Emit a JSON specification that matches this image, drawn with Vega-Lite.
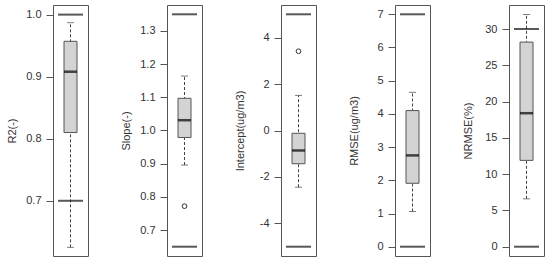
{
  "$schema": "https://vega.github.io/schema/vega-lite/v6.json",
  "padding": {"left": 5, "top": 4, "right": 0, "bottom": 0},
  "background": "white",
  "datasets": {
    "stats": [
      {"metric": "R2", "lower": 0.625, "q1": 0.81, "median": 0.908, "q3": 0.957, "upper": 0.987},
      {"metric": "Slope", "lower": 0.896, "q1": 0.979, "median": 1.031, "q3": 1.097, "upper": 1.164},
      {"metric": "Intercept", "lower": -2.44, "q1": -1.43, "median": -0.86, "q3": -0.12, "upper": 1.51},
      {"metric": "RMSE", "lower": 1.06, "q1": 1.91, "median": 2.75, "q3": 4.1, "upper": 4.65},
      {"metric": "NRMSE", "lower": 6.6, "q1": 11.9, "median": 18.4, "q3": 28.2, "upper": 32.0}
    ],
    "refs": [
      {"metric": "R2", "value": 0.7}, {"metric": "R2", "value": 1.0},
      {"metric": "Slope", "value": 0.65}, {"metric": "Slope", "value": 1.35},
      {"metric": "Intercept", "value": -5}, {"metric": "Intercept", "value": 5},
      {"metric": "RMSE", "value": 0}, {"metric": "RMSE", "value": 7},
      {"metric": "NRMSE", "value": 0}, {"metric": "NRMSE", "value": 30}
    ],
    "outliers": [
      {"metric": "Slope", "value": 0.772},
      {"metric": "Intercept", "value": 3.41}
    ]
  },
  "bounds": "flush",
  "spacing": 79,
  "hconcat": [
    {
      "width": 35, "height": 251,
      "encoding": {
        "x": {"datum": 0.5, "type": "quantitative", "scale": {"domain": [0, 1]}, "axis": null}
      },
      "layer": [
        {"data": {"name": "stats"}, "transform": [{"filter": "datum.metric === 'R2'"}],
         "mark": {"type": "rule", "strokeDash": [3, 2], "color": "#444", "strokeWidth": 1},
         "encoding": {"y": {"field": "lower", "type": "quantitative", "scale": {"domain": [0.611, 1.0155], "nice": false, "zero": false},
           "axis": {"title": "R2(-)", "values": [0.7, 0.8, 0.9, 1.0], "format": ".1f", "tickCount": 20}},
           "y2": {"field": "upper"}}},
        {"data": {"name": "stats"}, "transform": [{"filter": "datum.metric === 'R2'"}, {"fold": ["lower", "upper"], "as": ["k", "v"]}],
         "mark": {"type": "tick", "orient": "horizontal", "size": 7, "thickness": 1, "color": "#444"},
         "encoding": {"y": {"field": "v", "type": "quantitative"}}},
        {"data": {"name": "stats"}, "transform": [{"filter": "datum.metric === 'R2'"}],
         "mark": {"type": "bar", "width": 13, "fill": "#d3d3d3", "stroke": "#555", "strokeWidth": 1},
         "encoding": {"y": {"field": "q1", "type": "quantitative"}, "y2": {"field": "q3"}}},
        {"data": {"name": "stats"}, "transform": [{"filter": "datum.metric === 'R2'"}],
         "mark": {"type": "tick", "orient": "horizontal", "size": 13, "thickness": 2.5, "color": "#000"},
         "encoding": {"y": {"field": "median", "type": "quantitative"}}},
        {"data": {"name": "refs"}, "transform": [{"filter": "datum.metric === 'R2'"}],
         "mark": {"type": "tick", "orient": "horizontal", "size": 25, "thickness": 2, "color": "#111"},
         "encoding": {"y": {"field": "value", "type": "quantitative"}}}
      ]
    },
    {
      "width": 35, "height": 251,
      "encoding": {
        "x": {"datum": 0.5, "type": "quantitative", "scale": {"domain": [0, 1]}, "axis": null}
      },
      "layer": [
        {"data": {"name": "stats"}, "transform": [{"filter": "datum.metric === 'Slope'"}],
         "mark": {"type": "rule", "strokeDash": [3, 2], "color": "#444", "strokeWidth": 1},
         "encoding": {"y": {"field": "lower", "type": "quantitative", "scale": {"domain": [0.622, 1.378], "nice": false, "zero": false},
           "axis": {"title": "Slope(-)", "values": [0.7, 0.8, 0.9, 1.0, 1.1, 1.2, 1.3], "format": ".1f", "tickCount": 20}},
           "y2": {"field": "upper"}}},
        {"data": {"name": "stats"}, "transform": [{"filter": "datum.metric === 'Slope'"}, {"fold": ["lower", "upper"], "as": ["k", "v"]}],
         "mark": {"type": "tick", "orient": "horizontal", "size": 7, "thickness": 1, "color": "#444"},
         "encoding": {"y": {"field": "v", "type": "quantitative"}}},
        {"data": {"name": "stats"}, "transform": [{"filter": "datum.metric === 'Slope'"}],
         "mark": {"type": "bar", "width": 13, "fill": "#d3d3d3", "stroke": "#555", "strokeWidth": 1},
         "encoding": {"y": {"field": "q1", "type": "quantitative"}, "y2": {"field": "q3"}}},
        {"data": {"name": "stats"}, "transform": [{"filter": "datum.metric === 'Slope'"}],
         "mark": {"type": "tick", "orient": "horizontal", "size": 13, "thickness": 2.5, "color": "#000"},
         "encoding": {"y": {"field": "median", "type": "quantitative"}}},
        {"data": {"name": "outliers"}, "transform": [{"filter": "datum.metric === 'Slope'"}],
         "mark": {"type": "point", "shape": "circle", "filled": false, "size": 22, "color": "#333", "strokeWidth": 1, "opacity": 1},
         "encoding": {"y": {"field": "value", "type": "quantitative"}}},
        {"data": {"name": "refs"}, "transform": [{"filter": "datum.metric === 'Slope'"}],
         "mark": {"type": "tick", "orient": "horizontal", "size": 25, "thickness": 2, "color": "#111"},
         "encoding": {"y": {"field": "value", "type": "quantitative"}}}
      ]
    },
    {
      "width": 35, "height": 251,
      "encoding": {
        "x": {"datum": 0.5, "type": "quantitative", "scale": {"domain": [0, 1]}, "axis": null}
      },
      "layer": [
        {"data": {"name": "stats"}, "transform": [{"filter": "datum.metric === 'Intercept'"}],
         "mark": {"type": "rule", "strokeDash": [3, 2], "color": "#444", "strokeWidth": 1},
         "encoding": {"y": {"field": "lower", "type": "quantitative", "scale": {"domain": [-5.4, 5.4], "nice": false, "zero": false},
           "axis": {"title": "Intercept(ug/m3)", "values": [-4, -2, 0, 2, 4], "tickCount": 20, "labelExpr": "datum.value < 0 ? '-' + abs(datum.value) : '' + datum.value"}},
           "y2": {"field": "upper"}}},
        {"data": {"name": "stats"}, "transform": [{"filter": "datum.metric === 'Intercept'"}, {"fold": ["lower", "upper"], "as": ["k", "v"]}],
         "mark": {"type": "tick", "orient": "horizontal", "size": 7, "thickness": 1, "color": "#444"},
         "encoding": {"y": {"field": "v", "type": "quantitative"}}},
        {"data": {"name": "stats"}, "transform": [{"filter": "datum.metric === 'Intercept'"}],
         "mark": {"type": "bar", "width": 13, "fill": "#d3d3d3", "stroke": "#555", "strokeWidth": 1},
         "encoding": {"y": {"field": "q1", "type": "quantitative"}, "y2": {"field": "q3"}}},
        {"data": {"name": "stats"}, "transform": [{"filter": "datum.metric === 'Intercept'"}],
         "mark": {"type": "tick", "orient": "horizontal", "size": 13, "thickness": 2.5, "color": "#000"},
         "encoding": {"y": {"field": "median", "type": "quantitative"}}},
        {"data": {"name": "outliers"}, "transform": [{"filter": "datum.metric === 'Intercept'"}],
         "mark": {"type": "point", "shape": "circle", "filled": false, "size": 22, "color": "#333", "strokeWidth": 1, "opacity": 1},
         "encoding": {"y": {"field": "value", "type": "quantitative"}}},
        {"data": {"name": "refs"}, "transform": [{"filter": "datum.metric === 'Intercept'"}],
         "mark": {"type": "tick", "orient": "horizontal", "size": 25, "thickness": 2, "color": "#111"},
         "encoding": {"y": {"field": "value", "type": "quantitative"}}}
      ]
    },
    {
      "width": 35, "height": 251,
      "encoding": {
        "x": {"datum": 0.5, "type": "quantitative", "scale": {"domain": [0, 1]}, "axis": null}
      },
      "layer": [
        {"data": {"name": "stats"}, "transform": [{"filter": "datum.metric === 'RMSE'"}],
         "mark": {"type": "rule", "strokeDash": [3, 2], "color": "#444", "strokeWidth": 1},
         "encoding": {"y": {"field": "lower", "type": "quantitative", "scale": {"domain": [-0.28, 7.28], "nice": false, "zero": false},
           "axis": {"title": "RMSE(ug/m3)", "values": [0, 1, 2, 3, 4, 5, 6, 7], "format": "d", "tickCount": 20}},
           "y2": {"field": "upper"}}},
        {"data": {"name": "stats"}, "transform": [{"filter": "datum.metric === 'RMSE'"}, {"fold": ["lower", "upper"], "as": ["k", "v"]}],
         "mark": {"type": "tick", "orient": "horizontal", "size": 7, "thickness": 1, "color": "#444"},
         "encoding": {"y": {"field": "v", "type": "quantitative"}}},
        {"data": {"name": "stats"}, "transform": [{"filter": "datum.metric === 'RMSE'"}],
         "mark": {"type": "bar", "width": 13, "fill": "#d3d3d3", "stroke": "#555", "strokeWidth": 1},
         "encoding": {"y": {"field": "q1", "type": "quantitative"}, "y2": {"field": "q3"}}},
        {"data": {"name": "stats"}, "transform": [{"filter": "datum.metric === 'RMSE'"}],
         "mark": {"type": "tick", "orient": "horizontal", "size": 13, "thickness": 2.5, "color": "#000"},
         "encoding": {"y": {"field": "median", "type": "quantitative"}}},
        {"data": {"name": "refs"}, "transform": [{"filter": "datum.metric === 'RMSE'"}],
         "mark": {"type": "tick", "orient": "horizontal", "size": 25, "thickness": 2, "color": "#111"},
         "encoding": {"y": {"field": "value", "type": "quantitative"}}}
      ]
    },
    {
      "width": 35, "height": 251,
      "encoding": {
        "x": {"datum": 0.5, "type": "quantitative", "scale": {"domain": [0, 1]}, "axis": null}
      },
      "layer": [
        {"data": {"name": "stats"}, "transform": [{"filter": "datum.metric === 'NRMSE'"}],
         "mark": {"type": "rule", "strokeDash": [3, 2], "color": "#444", "strokeWidth": 1},
         "encoding": {"y": {"field": "lower", "type": "quantitative", "scale": {"domain": [-1.28, 33.31], "nice": false, "zero": false},
           "axis": {"title": "NRMSE(%)", "values": [0, 5, 10, 15, 20, 25, 30], "format": "d", "tickCount": 20}},
           "y2": {"field": "upper"}}},
        {"data": {"name": "stats"}, "transform": [{"filter": "datum.metric === 'NRMSE'"}, {"fold": ["lower", "upper"], "as": ["k", "v"]}],
         "mark": {"type": "tick", "orient": "horizontal", "size": 7, "thickness": 1, "color": "#444"},
         "encoding": {"y": {"field": "v", "type": "quantitative"}}},
        {"data": {"name": "stats"}, "transform": [{"filter": "datum.metric === 'NRMSE'"}],
         "mark": {"type": "bar", "width": 13, "fill": "#d3d3d3", "stroke": "#555", "strokeWidth": 1},
         "encoding": {"y": {"field": "q1", "type": "quantitative"}, "y2": {"field": "q3"}}},
        {"data": {"name": "stats"}, "transform": [{"filter": "datum.metric === 'NRMSE'"}],
         "mark": {"type": "tick", "orient": "horizontal", "size": 13, "thickness": 2.5, "color": "#000"},
         "encoding": {"y": {"field": "median", "type": "quantitative"}}},
        {"data": {"name": "refs"}, "transform": [{"filter": "datum.metric === 'NRMSE'"}],
         "mark": {"type": "tick", "orient": "horizontal", "size": 25, "thickness": 2, "color": "#111"},
         "encoding": {"y": {"field": "value", "type": "quantitative"}}}
      ]
    }
  ],
  "config": {
    "view": {"stroke": "#555", "strokeWidth": 1},
    "axis": {
      "domain": false, "grid": false, "tickSize": 7, "tickColor": "#555",
      "labelPadding": 5, "labelFont": "Liberation Sans", "labelFontSize": 11, "labelColor": "#333",
      "labelOverlap": false,
      "titleFont": "Liberation Sans", "titleFontSize": 11, "titleFontWeight": "normal", "titleColor": "#333",
      "titleX": -36, "titleY": 125.5
    }
  }
}
